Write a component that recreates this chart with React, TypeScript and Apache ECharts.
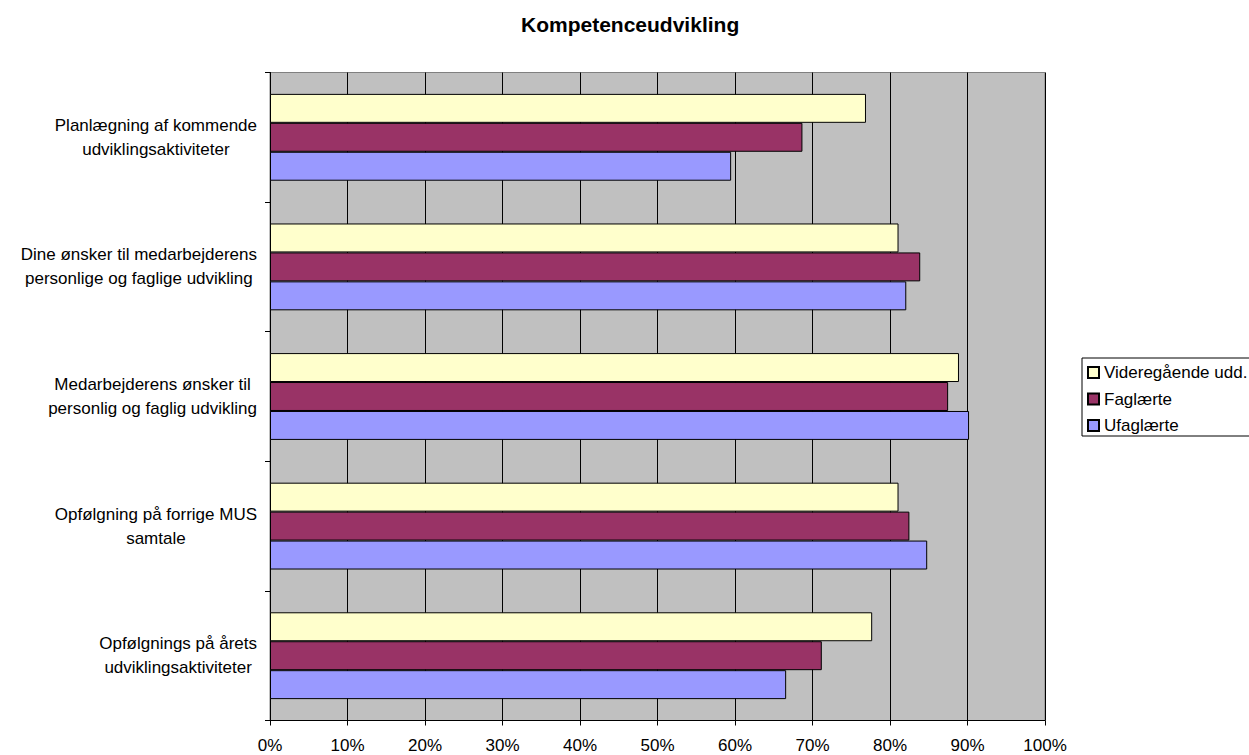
import React, { useEffect, useRef } from "react";
import * as echarts from "echarts";

// Survey topics, top to bottom
const categories: string[] = [
  "Planlægning af kommende\nudviklingsaktiviteter",
  "Dine ønsker til medarbejderens\npersonlige og faglige udvikling",
  "Medarbejderens ønsker til\npersonlig og faglig udvikling",
  "Opfølgning på forrige MUS\nsamtale",
  "Opfølgnings på årets\nudviklingsaktiviteter",
];

const seriesNames: string[] = ["Videregående udd.", "Faglærte", "Ufaglærte"];

// Share of respondents (%) per topic
const videregaaende: number[] = [76.9, 81.1, 88.9, 81.1, 77.7];
const faglaerte: number[] = [68.7, 83.9, 87.5, 82.5, 71.2];
const ufaglaerte: number[] = [59.5, 82.1, 90.2, 84.8, 66.6];

const seriesColors: string[] = ["#FFFFCC", "#993366", "#9999FF"];

const FONT = "'Liberation Sans', Arial, Helvetica, sans-serif";

export default function App() {
  const ref = useRef<HTMLDivElement>(null);

  useEffect(() => {
    if (!ref.current) return;
    const chart = echarts.init(ref.current, undefined, { renderer: "svg" });
    const values = [videregaaende, faglaerte, ufaglaerte];

    chart.setOption({
      animation: false,
      backgroundColor: "#ffffff",
      textStyle: { fontFamily: FONT, color: "#000" },
      title: {
        text: "Kompetenceudvikling",
        left: 521,
        top: 14,
        padding: 0,
        textStyle: {
          fontFamily: FONT,
          fontSize: 21,
          fontWeight: "bold",
          color: "#000",
        },
      },
      legend: {
        orient: "vertical",
        left: 1082,
        top: 358,
        padding: [6, 30, 2, 5],
        itemGap: 9.5,
        itemWidth: 11,
        itemHeight: 11,
        icon: "rect",
        borderColor: "#000",
        borderWidth: 1,
        backgroundColor: "#fff",
        textStyle: { fontFamily: FONT, fontSize: 17, color: "#000", lineHeight: 17 },
        data: seriesNames,
      },
      grid: {
        left: 270,
        right: 204,
        top: 72.5,
        bottom: 34.5,
        show: true,
        backgroundColor: "#C0C0C0",
        borderColor: "#808080",
        borderWidth: 1,
      },
      xAxis: {
        type: "value",
        min: 0,
        max: 100,
        interval: 10,
        axisLine: { show: true, lineStyle: { color: "#000", width: 1 } },
        axisTick: { show: true, length: 5, lineStyle: { color: "#000" } },
        splitLine: { show: true, lineStyle: { color: "#000", width: 1 } },
        axisLabel: {
          formatter: "{value}%",
          fontFamily: FONT,
          fontSize: 17,
          color: "#000",
          margin: 16,
        },
      },
      yAxis: {
        type: "category",
        inverse: true,
        data: categories,
        axisLine: { show: true, lineStyle: { color: "#000", width: 1 } },
        axisTick: { show: true, length: 5, lineStyle: { color: "#000" } },
        splitLine: { show: false },
        axisLabel: {
          margin: 13,
          fontFamily: FONT,
          fontSize: 17,
          color: "#000",
          lineHeight: 24,
          formatter: (v: string) =>
            v
              .split("\n")
              .map((l) => `{c|${l}}`)
              .join("\n"),
          rich: {
            c: {
              align: "center",
              fontFamily: FONT,
              fontSize: 17,
              lineHeight: 24,
              color: "#000",
            },
          },
        },
      },
      series: seriesNames.map((name, i) => ({
        name,
        type: "bar",
        data: values[i],
        barGap: "0%",
        barCategoryGap: "33%",
        itemStyle: {
          color: seriesColors[i],
          borderColor: "#000",
          borderWidth: 1,
        },
      })),
    });

    return () => chart.dispose();
  }, []);

  return (
    <div
      ref={ref}
      style={{ position: "absolute", left: 0, top: 0, width: 1249, height: 755 }}
    />
  );
}
